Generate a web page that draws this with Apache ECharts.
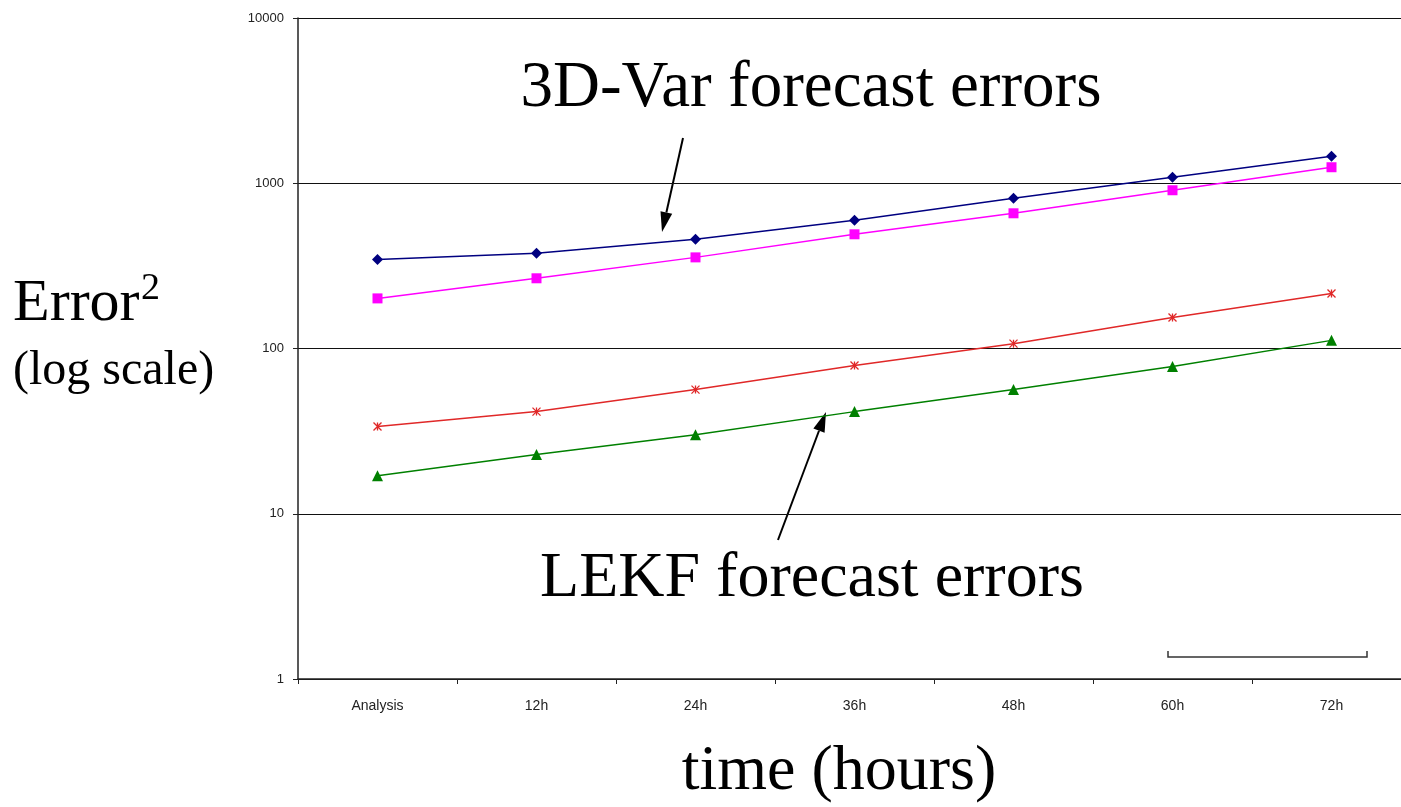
<!DOCTYPE html>
<html><head><meta charset="utf-8">
<script src="https://cdn.jsdelivr.net/npm/echarts@6/dist/echarts.min.js"></script>
<style>html,body{margin:0;padding:0;background:#fff;overflow:hidden}#c{width:1420px;height:807px}</style>
</head><body><div id="c"></div>
<script>
const categories = ['Analysis','12h','24h','36h','48h','60h','72h'];
const var3dA = [346, 377, 458, 597, 811, 1087, 1458];
const var3dB = [201, 266, 356, 491, 658, 907, 1250];
const lekfA = [33.7, 41.5, 56.4, 78.9, 107, 154, 215];
const lekfB = [17.0, 22.8, 30.1, 41.5, 56.4, 77.8, 112];
const yTicks = [1, 10, 100, 1000, 10000];

const chart = echarts.init(document.getElementById('c'), null, {renderer:'canvas'});
const serif = '"Liberation Serif","Times New Roman",serif';
const sans = '"Liberation Sans",Arial,sans-serif';

function arrow(x1,y1,x2,y2){
  const L=20, W=6;
  const dx=x2-x1, dy=y2-y1, len=Math.hypot(dx,dy), ux=dx/len, uy=dy/len;
  const bx=x2-ux*L, by=y2-uy*L;
  return [
    {type:'line', shape:{x1:x1,y1:y1,x2:bx,y2:by}, style:{stroke:'#000', lineWidth:2}},
    {type:'polygon', shape:{points:[[x2,y2],[bx-uy*W,by+ux*W],[bx+uy*W,by-ux*W]]}, style:{fill:'#000'}}
  ];
}

const option = {
  backgroundColor:'#fff',
  animation:false,
  grid:{left:298, top:18, width:1113, height:661, containLabel:false},
  xAxis:{type:'category', data:categories, boundaryGap:true,
    axisLine:{lineStyle:{color:'#222', width:1.5}},
    axisTick:{show:true, interval:0, length:5, lineStyle:{color:'#222'}},
    axisLabel:{interval:0, margin:20, fontFamily:sans, fontSize:14, color:'#222'},
    splitLine:{show:false}},
  yAxis:{type:'log', logBase:10, min:1, max:10000,
    axisLine:{show:true, lineStyle:{color:'#222', width:1.5}},
    axisTick:{show:true, length:5, lineStyle:{color:'#222'}},
    axisLabel:{margin:14, fontFamily:sans, fontSize:13, color:'#222',
      formatter:v=>{const r=yTicks.find(t=>Math.abs(t-v)/t<1e-6);return r===undefined?'':String(r);}},
    splitLine:{show:true, lineStyle:{color:'#111', width:1.2}}},
  series:[
    {type:'line', data:var3dA, symbol:'diamond', symbolSize:11, lineStyle:{color:'#000080', width:1.5}, itemStyle:{color:'#000080'}},
    {type:'line', data:var3dB, symbol:'rect', symbolSize:10, lineStyle:{color:'#ff00ff', width:1.5}, itemStyle:{color:'#ff00ff'}},
    {type:'line', data:lekfA, symbol:'path://M0,0L10,10M10,0L0,10M5,0L5,10', symbolSize:8,
      lineStyle:{color:'#e02828', width:1.5}, itemStyle:{color:'none', borderColor:'#e02828', borderWidth:1.3}},
    {type:'line', data:lekfB, symbol:'triangle', symbolSize:11, lineStyle:{color:'#008000', width:1.5}, itemStyle:{color:'#008000'}}
  ],
  graphic:[
    {type:'text', left:13, top:274, style:{text:'Error', font:'60px '+serif, fill:'#000'}},
    {type:'text', left:141, top:270, style:{text:'2', font:'38px '+serif, fill:'#000'}},
    {type:'text', left:13, top:347, style:{text:'(log scale)', font:'48px '+serif, fill:'#000'}},
    {type:'text', x:811, y:89, style:{text:'3D-Var forecast errors', font:'65px '+serif, fill:'#000', align:'center', verticalAlign:'middle'}},
    {type:'text', x:812, y:579, style:{text:'LEKF forecast errors', font:'64px '+serif, fill:'#000', align:'center', verticalAlign:'middle'}},
    {type:'text', x:839, y:772, style:{text:'time (hours)', font:'64px '+serif, fill:'#000', align:'center', verticalAlign:'middle'}},
    ...arrow(683,138,662,232),
    ...arrow(778,540,826,412),
    {type:'polyline', shape:{points:[[1168,651],[1168,657],[1367,657],[1367,651]]}, style:{stroke:'#333', lineWidth:1.5, fill:null}}
  ]
};
chart.setOption(option);
</script></body></html>
